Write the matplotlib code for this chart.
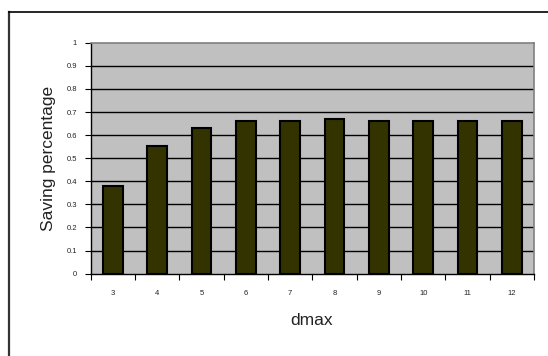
import matplotlib.pyplot as plt
from matplotlib.lines import Line2D
import numpy as np

plt.rcParams['font.family'] = ['Liberation Sans', 'DejaVu Sans']

dmax = ['3', '4', '5', '6', '7', '8', '9', '10', '11', '12']
saving = [0.378, 0.555, 0.630, 0.663, 0.663, 0.671, 0.663, 0.663, 0.663, 0.663]
yticks = [0, 0.1, 0.2, 0.3, 0.4, 0.5, 0.6, 0.7, 0.8, 0.9, 1]
ytick_labels = ['0', '0.1', '0.2', '0.3', '0.4', '0.5', '0.6', '0.7', '0.8', '0.9', '1']

fig = plt.figure(figsize=(5.48, 3.56), dpi=100)
ax = fig.add_axes([0.1655, 0.2312, 0.809, 0.6488])
ax.set_facecolor('#c0c0c0')

x = np.arange(len(dmax))
ax.bar(x, saving, width=0.44, color='#333300', edgecolor='black', linewidth=1.5, zorder=3)

ax.set_xlim(-0.5, len(dmax) - 0.5)
ax.set_ylim(0, 1)
ax.set_yticks(yticks)
ax.set_yticklabels(ytick_labels, fontsize=5.5, color='#222222')
for y in yticks[1:-1]:
    ax.axhline(y, color='black', linewidth=1.0, zorder=1)

# ticks on x at category boundaries, labels centred
ax.set_xticks(np.arange(-0.5, len(dmax), 1))
ax.set_xticklabels([])
ax.set_xticks(x, minor=True)
ax.set_xticklabels(dmax, minor=True, fontsize=5.5, color='#222222')
ax.tick_params(axis='x', which='major', length=4, width=0.8, direction='out')
ax.tick_params(axis='x', which='minor', length=0, pad=12)
ax.tick_params(axis='y', length=4, width=0.8, direction='out', pad=6)

for s in ['top', 'right']:
    ax.spines[s].set_color('#808080')
    ax.spines[s].set_linewidth(1.2)
for s in ['left', 'bottom']:
    ax.spines[s].set_color('black')
    ax.spines[s].set_linewidth(1.0)

fig.text(0.088, 0.555, 'Saving percentage', rotation=90, fontsize=12.5,
         ha='center', va='center', color='#222222')
fig.text(0.569, 0.101, 'dmax', fontsize=12.5, ha='center', va='center', color='#222222')

# outer chart frame
fig.add_artist(Line2D([9 / 548, 9 / 548], [0, 1 - 11.7 / 356], color='#333333', linewidth=1.6))
fig.add_artist(Line2D([9 / 548, 1], [1 - 11.7 / 356, 1 - 11.7 / 356], color='black', linewidth=1.2))

plt.savefig('out.png', dpi=100)
